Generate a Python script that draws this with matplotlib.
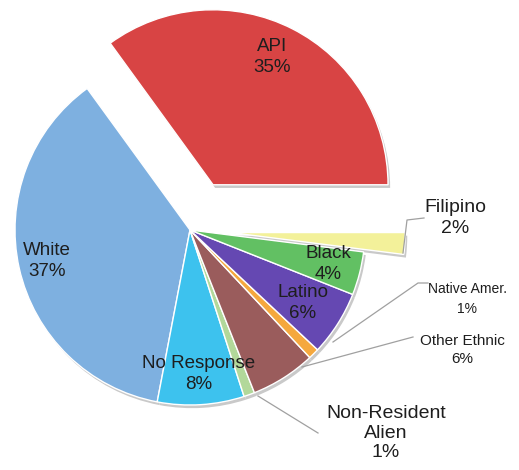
import matplotlib.pyplot as plt

# --- data (counterclockwise from 3 o'clock) ---
groups = ["API", "White", "No Response", "Non-Resident\nAlien", "Other Ethnic",
          "Native Amer.", "Latino", "Black", "Filipino"]
shares = [35, 37, 8, 1, 6, 1, 6, 4, 2]
colors = ["#d84444", "#7eb0e0", "#3dc2ee", "#b2d89a", "#9a5c5c",
          "#f5a83e", "#6548b2", "#62c063", "#f3f19a"]
explode = [0.29, 0, 0, 0, 0, 0, 0, 0, 0.23]

W, H = 519, 470
CX, CY, R = 190, 230, 175  # pie centre / radius in pixels


def px(x, y):
    # pixel position (origin top-left) -> data units (radius = 1)
    return (x - CX) / R, (CY - y) / R


fig = plt.figure(figsize=(W / 100, H / 100), dpi=100)
ax = fig.add_axes([0, 0, 1, 1])

# soft grey shadow under the pie
ax.pie(shares, startangle=0, counterclock=True, explode=explode,
       colors=["#c9c9c9"] * len(shares), center=(0.012, -0.018),
       wedgeprops=dict(linewidth=0))
ax.pie(shares, startangle=0, counterclock=True, explode=explode,
       colors=colors, wedgeprops=dict(edgecolor="white", linewidth=1.0))

x0, y0 = px(0, H)
x1, y1 = px(W, 0)
ax.set_xlim(x0, x1)
ax.set_ylim(y0, y1)
ax.set_aspect("equal")
ax.axis("off")

txt = dict(color="#1e1e1e", ha="center", va="center", family="Liberation Sans")

# labels inside slices
inside = {"API": (272, 57), "White": (47, 261), "No Response": (199, 374),
          "Latino": (303, 303), "Black": (328, 264)}
for name, pos in inside.items():
    i = groups.index(name)
    ax.text(*px(*pos), f"{name}\n{shares[i]}%", fontsize=13.5,
            linespacing=1.3, **txt)

# labels outside with leader lines
outside = [("Filipino", (455, 218), [(403, 253), (407, 220), (424, 218)], 14, 1.25),
           ("Native Amer.", (467, 299), [(333, 342), (418, 283), (428, 283)], 10, 1.6),
           ("Other Ethnic", (462, 350), [(302, 367), (413, 337)], 11, 1.4),
           ("Non-Resident\nAlien", (386, 433), [(258, 396), (318, 433)], 14, 1.2)]
for name, pos, pts, fs, ls in outside:
    i = groups.index(name)
    xs, ys = zip(*[px(*p) for p in pts])
    ax.plot(xs, ys, color="#a0a0a0", lw=0.9)
    ax.text(*px(*pos), f"{name}\n{shares[i]}%", fontsize=fs,
            linespacing=ls, **txt)

fig.savefig("out.png", dpi=100)
